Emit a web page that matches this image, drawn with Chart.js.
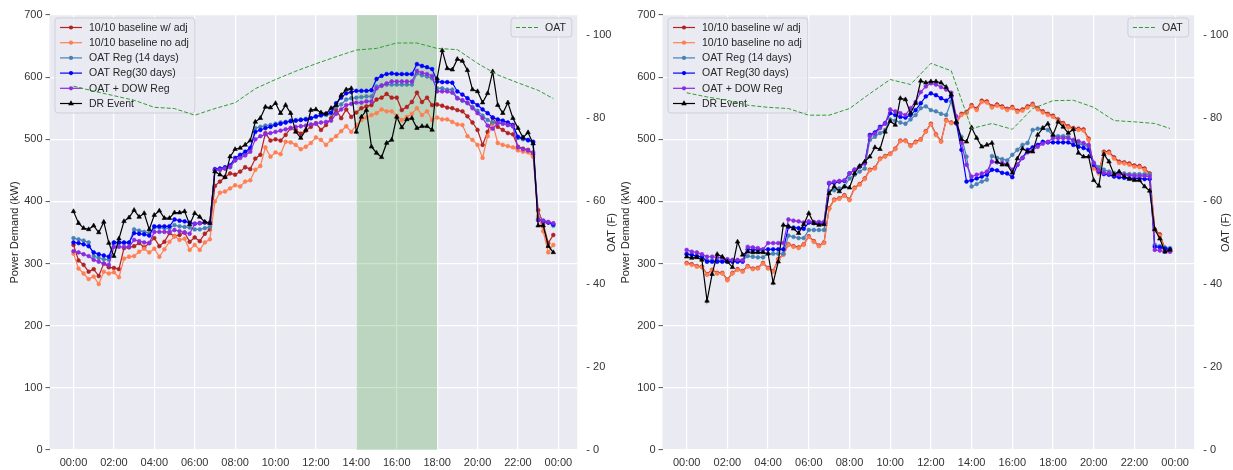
<!DOCTYPE html>
<html>
<head>
<meta charset="utf-8">
<script src="https://cdn.jsdelivr.net/npm/chart.js@4.4.1/dist/chart.umd.min.js"></script>
<style>
  html, body { margin: 0; padding: 0; background: #fff; }
  #wrap { position: relative; width: 1233px; height: 470px; }
  canvas { position: absolute; top: 0; }
</style>
</head>
<body>
<div id="wrap">
  <canvas id="leftChart" width="620" height="470" style="left:0px"></canvas>
  <canvas id="rightChart" width="615" height="470" style="left:618px"></canvas>
</div>
<script>
// x axis: quarter-hour slots of one day, ticks every two hours
const slotHours = Array.from({ length: 96 }, (_, i) => i / 4);
const tickHours = [0, 2, 4, 6, 8, 10, 12, 14, 16, 18, 20, 22, 24];
const tickLabels = ['00:00', '02:00', '04:00', '06:00', '08:00', '10:00', '12:00',
                    '14:00', '16:00', '18:00', '20:00', '22:00', '00:00'];
const powerTicks = [0, 100, 200, 300, 400, 500, 600, 700];
const oatTicks = [0, 20, 40, 60, 80, 100];
const oatHours = [0, 1, 2, 3, 4, 5, 6, 7, 8, 9, 10, 11, 12, 13, 14, 15, 16, 17, 18, 19, 20, 21, 22, 23, 23.75];

const seriesNames = ['10/10 baseline w/ adj', '10/10 baseline no adj', 'OAT Reg (14 days)',
                     'OAT Reg(30 days)', 'OAT + DOW Reg', 'DR Event'];

// ---- left panel (DR event day, event 14:00-18:00) ----
const leftAdj = [330, 305, 298, 287, 291, 280, 300, 294, 293, 291, 325, 326, 328, 333, 326, 333, 341, 328, 335, 349, 344, 346, 350, 335, 342, 336, 348, 355,
  425, 432, 439, 445, 443, 448, 455, 452, 469, 475, 510, 498, 500, 498, 507, 518, 515, 509, 514, 520, 526, 515, 523, 534, 547, 534, 548,
  536, 543, 550, 553, 555, 564, 567, 573, 567, 567, 547, 552, 560, 575, 560, 567, 555,
  556, 554, 551, 550, 547, 545, 537, 527, 515, 491, 512, 535, 520, 515, 510, 508, 488, 485, 483, 476, 386, 364, 333, 346];
const leftNoAdj = [316, 292, 284, 275, 279, 267, 287, 284, 286, 278, 308, 311, 312, 319, 324, 318, 324, 311, 323, 335, 344, 338, 340, 322, 330, 322, 334, 339,
  400, 414, 416, 421, 426, 424, 432, 434, 451, 457, 487, 472, 479, 476, 496, 495, 491, 484, 488, 494, 503, 499, 491, 499, 505, 513, 521,
  512, 523, 531, 535, 539, 542, 548, 545, 545, 538, 531, 536, 541, 550, 539, 545, 531,
  535, 532, 532, 528, 524, 523, 505, 499, 491, 470, 505, 525, 494, 491, 489, 487, 482, 480, 479, 472, 376, 352, 318, 330];
const leftReg14 = [341, 339, 337, 334, 312, 309, 307, 306, 333, 333, 333, 333, 355, 353, 351, 349, 358, 358, 357, 357, 362, 360, 359, 358, 355, 355, 357, 359,
  450, 451, 453, 455, 466, 472, 478, 484, 518, 520, 522, 523, 525, 527, 528, 530, 531, 532, 533, 534, 536, 538, 539, 541, 552, 556, 564,
  566, 567, 568, 569, 569, 585, 587, 588, 588, 588, 588, 588, 588, 606, 603, 601, 598,
  582, 582, 580, 580, 566, 562, 558, 552, 546, 538, 531, 527, 529, 526, 523, 521, 502, 500, 498, 495, 372, 369, 366, 361];
const leftReg30 = [334, 333, 331, 328, 318, 315, 313, 311, 334, 334, 334, 334, 349, 348, 347, 345, 360, 360, 360, 360, 371, 369, 368, 366, 364, 365, 366, 366,
  452, 453, 455, 458, 470, 475, 480, 486, 512, 515, 518, 520, 523, 525, 527, 529, 530, 531, 532, 534, 537, 539, 541, 543, 558, 567, 574,
  576, 578, 578, 578, 579, 597, 602, 605, 606, 605, 605, 605, 605, 621, 618, 616, 613,
  593, 592, 592, 591, 577, 572, 566, 560, 555, 548, 542, 535, 532, 530, 527, 523, 504, 502, 499, 496, 370, 368, 366, 363];
const leftDow = [320, 318, 315, 312, 306, 303, 300, 298, 327, 327, 327, 327, 338, 336, 334, 333, 351, 351, 351, 351, 354, 352, 350, 348, 364, 365, 366, 366,
  450, 451, 453, 456, 466, 470, 474, 480, 500, 505, 508, 510, 512, 514, 516, 518, 520, 521, 522, 524, 525, 527, 528, 530, 541, 548, 555,
  557, 559, 559, 561, 561, 582, 586, 590, 593, 593, 593, 593, 593, 610, 607, 605, 602,
  577, 577, 577, 575, 566, 563, 559, 550, 542, 534, 522, 517, 526, 525, 523, 521, 487, 484, 482, 479, 370, 369, 367, 365];
const leftDr = [384, 365, 357, 355, 361, 350, 367, 333, 312, 340, 368, 374, 386, 375, 381, 355, 378, 385, 373, 373, 382, 382, 384, 363, 381, 375, 367, 365,
  448, 443, 439, 472, 484, 486, 491, 498, 528, 534, 552, 551, 558, 542, 555, 542, 512, 502, 515, 547, 548, 543, 541, 550, 555, 571, 580,
  582, 512, 536, 547, 488, 478, 471, 494, 499, 536, 519, 532, 534, 518, 521, 521, 515,
  598, 643, 614, 612, 629, 626, 611, 580, 577, 559, 574, 609, 555, 542, 559, 534, 518, 503, 511, 493, 361, 361, 328, 318];
const leftOat = [87.7, 86.5, 85.4, 84.3, 82.6, 82.3, 80.7, 82.3, 83.7, 87.1, 89.3, 91.3, 93.1, 94.8, 96.4, 96.8, 98.1, 98.1, 96.8, 96.5, 93.2, 90.4, 88.5, 86.7, 84.7];

// ---- right panel ----
const rightAdj = [301, 299, 296, 295, 283, 290, 285, 285, 274, 285, 291, 288, 296, 292, 293, 301, 293, 288, 307, 315, 331, 328, 326, 331, 344, 336, 329, 334,
  389, 403, 405, 410, 403, 422, 428, 437, 451, 454, 469, 473, 477, 485, 498, 498, 490, 496, 500, 513, 525, 508, 497, 531, 527,
  527, 541, 544, 555, 549, 562, 561, 553, 556, 553, 549, 552, 546, 548, 553, 557, 550, 545, 541, 538, 532, 526, 521, 518, 517, 516, 501, 455, 447, 480, 480,
  471, 464, 463, 461, 458, 457, 453, 445, 355, 347, 324, 321];
const rightNoAdj = [300, 298, 295, 294, 282, 289, 284, 284, 273, 284, 290, 287, 295, 291, 292, 300, 292, 287, 306, 314, 330, 327, 325, 330, 343, 335, 328, 333,
  388, 402, 404, 409, 402, 421, 427, 436, 450, 453, 468, 472, 476, 484, 497, 497, 489, 495, 499, 512, 524, 507, 496, 530, 526,
  525, 539, 542, 553, 547, 560, 559, 551, 554, 551, 547, 550, 544, 546, 551, 555, 548, 543, 539, 536, 530, 524, 519, 516, 515, 514, 499, 453, 445, 478, 478,
  469, 462, 461, 459, 456, 455, 451, 443, 353, 345, 322, 320];
const rightReg14 = [316, 314, 312, 310, 305, 305, 305, 305, 305, 305, 305, 305, 312, 311, 310, 310, 316, 316, 316, 316, 345, 343, 341, 341, 354, 354, 354, 354,
  417, 418, 421, 424, 437, 443, 448, 453, 499, 504, 510, 515, 532, 530, 527, 525, 532, 539, 550, 553,
  547, 545, 541, 539, 561, 526, 504, 472, 424, 428, 432, 435, 473, 470, 468, 466, 475, 483, 491, 494, 515, 517, 518, 515,
  505, 505, 505, 504, 496, 493, 491, 488, 462, 455, 451, 448, 446, 446, 445, 444, 444, 444, 444, 443, 330, 328, 326, 325];
const rightReg30 = [315, 314, 312, 311, 303, 303, 303, 303, 303, 303, 303, 303, 323, 322, 322, 322, 323, 323, 323, 323, 359, 358, 357, 356, 366, 365, 365, 365,
  429, 430, 432, 433, 445, 451, 456, 462, 507, 511, 520, 526, 542, 539, 536, 535, 539, 547, 558, 569,
  574, 571, 566, 562, 569, 526, 483, 432, 434, 437, 440, 443, 451, 450, 446, 445, 439, 459, 470, 483, 487, 491, 496, 495,
  495, 495, 495, 495, 491, 488, 486, 483, 459, 448, 444, 443, 440, 439, 438, 437, 437, 437, 436, 436, 327, 326, 324, 323];
const rightDow = [322, 319, 318, 315, 311, 311, 310, 309, 307, 306, 306, 305, 327, 326, 325, 323, 333, 333, 333, 333, 371, 369, 368, 366, 368, 367, 367, 367,
  430, 432, 433, 434, 445, 451, 456, 461, 505, 509, 518, 525, 548, 545, 542, 539, 550, 560, 576, 585,
  590, 588, 584, 580, 575, 537, 494, 459, 440, 443, 445, 448, 464, 463, 462, 460, 451, 459, 470, 479, 483, 488, 493, 496,
  502, 502, 502, 502, 499, 497, 494, 491, 462, 450, 446, 445, 443, 443, 443, 442, 441, 441, 441, 440, 322, 321, 319, 319];
const rightDr = [311, 309, 310, 306, 240, 283, 315, 311, 303, 294, 335, 314, 319, 318, 318, 318, 316, 269, 303, 362, 360, 356, 349, 363, 381, 365, 362, 363,
  413, 424, 416, 424, 422, 445, 457, 464, 472, 487, 484, 512, 529, 523, 566, 564, 542, 558, 594, 591,
  593, 593, 591, 584, 572, 528, 500, 496, 519, 502, 488, 491, 494, 464, 459, 459, 446, 469, 485, 480, 480, 507, 518, 525,
  507, 528, 520, 510, 516, 478, 472, 472, 434, 425, 476, 464, 443, 448, 440, 436, 434, 434, 424, 417, 355, 340, 319, 322];
const rightOat = [86.1, 85.1, 84.3, 83.1, 82.6, 82.3, 80.7, 80.7, 82.3, 85.9, 89.3, 88.1, 93.2, 91.4, 77.5, 78.7, 77.3, 82.3, 84.2, 84.3, 82.6, 79.4, 79.1, 78.7, 77.5];

const FONT = '"Liberation Sans", Arial, Helvetica, sans-serif';
const TEXT = '#262626';
Chart.defaults.font.family = FONT;
Chart.defaults.font.size = 11;
Chart.defaults.color = TEXT;

const styles = [
  { color: '#b22222', point: 'circle' },
  { color: '#ff7f50', point: 'circle' },
  { color: '#4682b4', point: 'circle' },
  { color: '#0000ff', point: 'circle' },
  { color: '#8a2be2', point: 'circle' },
  { color: '#000000', point: 'triangle' }
];
const OAT_COLOR = '#2f9e2f';

const areaBg = {
  id: 'areaBg',
  beforeDraw(chart) {
    const { ctx, chartArea: a } = chart;
    ctx.save();
    ctx.fillStyle = '#eaeaf2';
    ctx.fillRect(a.left, a.top, a.right - a.left, a.bottom - a.top);
    ctx.restore();
  }
};

const drSpan = {
  id: 'drSpan',
  beforeDatasetsDraw(chart, args, opts) {
    if (!opts || opts.from == null) return;
    const { ctx, chartArea: a, scales: { x } } = chart;
    const x0 = x.getPixelForValue(opts.from), x1 = x.getPixelForValue(opts.to);
    ctx.save();
    ctx.fillStyle = 'rgba(0,128,0,0.2)';
    ctx.fillRect(x0, a.top, x1 - x0, a.bottom - a.top);
    ctx.restore();
  }
};

// right-hand axis title, read bottom to top like the left one
const oatTitle = {
  id: 'oatTitle',
  afterDraw(chart, args, opts) {
    const { ctx, chartArea: a } = chart;
    ctx.save();
    ctx.font = '11px ' + FONT;
    ctx.fillStyle = TEXT;
    ctx.textAlign = 'center';
    ctx.textBaseline = 'middle';
    ctx.translate(opts.x, (a.top + a.bottom) / 2);
    ctx.rotate(-Math.PI / 2);
    ctx.fillText('OAT (F)', 0, 0);
    ctx.restore();
  }
};

function drawMarker(ctx, style, x, y) {
  ctx.beginPath();
  if (style === 'triangle') {
    ctx.moveTo(x, y - 3.2);
    ctx.lineTo(x + 2.8, y + 1.8);
    ctx.lineTo(x - 2.8, y + 1.8);
    ctx.closePath();
  } else {
    ctx.arc(x, y, 2.1, 0, Math.PI * 2);
  }
  ctx.fill();
}

function drawLegend(chart, items, side) {
  const { ctx, chartArea: a } = chart;
  ctx.save();
  ctx.font = '10.5px ' + FONT;
  const textW = Math.max(...items.map(it => ctx.measureText(it.label).width));
  const w = 34 + textW + 6;
  const h = 19 + (items.length - 1) * 15.2;
  const x0 = side === 'left' ? a.left + 5.5 : a.right - 5.5 - w;
  const y0 = a.top + 3;
  ctx.beginPath();
  ctx.roundRect(x0, y0, w, h, 3);
  ctx.fillStyle = 'rgba(234,234,242,0.85)';
  ctx.fill();
  ctx.strokeStyle = '#cfcfd6';
  ctx.lineWidth = 1;
  ctx.stroke();
  items.forEach((it, i) => {
    const cy = y0 + 9.5 + i * 15.2;
    ctx.strokeStyle = it.color;
    ctx.fillStyle = it.color;
    ctx.lineWidth = 1.2;
    ctx.setLineDash(it.dash || []);
    ctx.beginPath();
    ctx.moveTo(x0 + 5, cy);
    ctx.lineTo(x0 + 27, cy);
    ctx.stroke();
    ctx.setLineDash([]);
    if (it.point) drawMarker(ctx, it.point, x0 + 16, cy);
    ctx.fillStyle = TEXT;
    ctx.textBaseline = 'middle';
    ctx.fillText(it.label, x0 + 34, cy + 0.5);
  });
  ctx.restore();
}

const boxLegends = {
  id: 'boxLegends',
  afterDatasetDraw(chart, args) {
    // power legend sits under the OAT line, as the twin axis is drawn on top
    if (chart.data.datasets[args.index].label !== 'DR Event') return;
    drawLegend(chart, seriesNames.map((n, i) => ({ label: n, color: styles[i].color, point: styles[i].point })), 'left');
  },
  afterDatasetsDraw(chart) {
    drawLegend(chart, [{ label: 'OAT', color: OAT_COLOR, dash: [4, 2] }], 'right');
  }
};

function makeChart(id, power, oat, layout, span) {
  const datasets = power.map((vals, i) => ({
    label: seriesNames[i],
    data: vals.map((v, k) => ({ x: slotHours[k], y: v })),
    borderColor: styles[i].color,
    backgroundColor: styles[i].color,
    borderWidth: 1.2,
    pointStyle: styles[i].point,
    pointRadius: styles[i].point === 'triangle' ? 2.6 : 1.9,
    pointBorderWidth: 0.6,
    pointBorderColor: styles[i].color,
    pointBackgroundColor: styles[i].color,
    yAxisID: 'y',
    order: 6 - i
  }));
  datasets.push({
    label: 'OAT',
    data: oat.map((v, k) => ({ x: oatHours[k], y: v })),
    borderColor: OAT_COLOR,
    borderWidth: 1,
    borderDash: [4, 2],
    pointRadius: 0,
    yAxisID: 'y2',
    order: 0
  });

  return new Chart(document.getElementById(id), {
    type: 'line',
    data: { datasets },
    options: {
      responsive: false,
      animation: false,
      devicePixelRatio: 1,
      layout: { padding: { top: 15, left: 0, right: 0, bottom: 0 } },
      plugins: {
        legend: { display: false },
        tooltip: { enabled: false },
        drSpan: span || {},
        oatTitle: { x: layout.oatX }
      },
      scales: {
        x: {
          type: 'linear',
          min: -1.1875,
          max: 24.9375,
          afterBuildTicks: s => { s.ticks = tickHours.map(v => ({ value: v })); },
          afterFit: s => { s.height = 20; },
          ticks: {
            callback: (v, i) => tickLabels[i],
            padding: 6,
            maxRotation: 0,
            autoSkip: false,
            color: '#333'
          },
          grid: { color: '#ffffff', lineWidth: 1.2, drawTicks: false },
          border: { display: false }
        },
        y: {
          position: 'left',
          min: 0,
          max: 700,
          afterBuildTicks: s => { s.ticks = powerTicks.map(v => ({ value: v })); },
          afterFit: s => { s.width = layout.leftW; },
          ticks: { padding: 3, color: '#333' },
          grid: { color: '#ffffff', lineWidth: 1.2, tickColor: '#555', tickLength: 4, tickWidth: 1 },
          border: { display: false },
          title: { display: true, text: 'Power Demand (kW)', color: TEXT, padding: { top: layout.leftPad, bottom: 0 } }
        },
        y2: {
          position: 'right',
          min: 0,
          max: 104.85,
          afterBuildTicks: s => { s.ticks = oatTicks.map(v => ({ value: v })); },
          afterFit: s => { s.width = layout.rightW; },
          ticks: { padding: 0, color: '#333', callback: v => '- ' + v },
          grid: { drawOnChartArea: false, tickLength: 9, tickColor: 'rgba(0,0,0,0)' },
          border: { display: false }
        }
      }
    },
    plugins: [areaBg, drSpan, boxLegends, oatTitle]
  });
}

makeChart('leftChart', [leftAdj, leftNoAdj, leftReg14, leftReg30, leftDow, leftDr], leftOat,
  { leftW: 49.5, rightW: 42.7, leftPad: 8.4, oatX: 612 }, { from: 14, to: 18 });
makeChart('rightChart', [rightAdj, rightNoAdj, rightReg14, rightReg30, rightDow, rightDr], rightOat,
  { leftW: 44.5, rightW: 38.8, leftPad: 1.4, oatX: 608 }, null);
</script>
</body>
</html>
